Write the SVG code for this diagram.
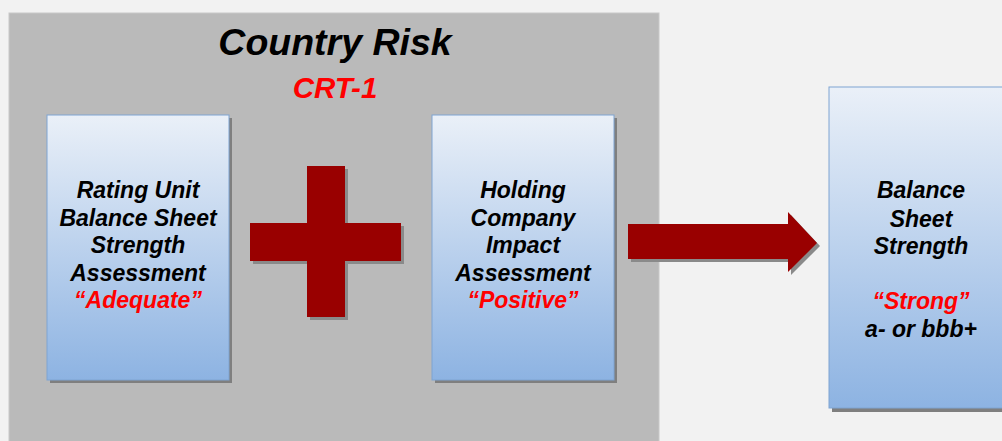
<svg xmlns="http://www.w3.org/2000/svg" width="1002" height="441" viewBox="0 0 1002 441">
<defs>
<linearGradient id="boxGrad" x1="0" y1="0" x2="0" y2="1">
<stop offset="0" stop-color="#eaf0f8"/>
<stop offset="1" stop-color="#8db3e2"/>
</linearGradient>
<style>
.box{fill:url(#boxGrad);stroke:#7ea4d2;stroke-width:1}
.shadow{fill:#7f7f7f}
.t{font-family:"Liberation Sans",Arial,sans-serif;font-weight:bold;font-style:italic;text-anchor:middle}
.lbl{font-size:23px;fill:#000}
.red{fill:#ff0000}
.sym{fill:#990000}
.symsh{fill:#8a8a8a}
</style>
</defs>
<rect x="0" y="0" width="1002" height="441" fill="#f2f2f2"/>
<g id="panel">
<rect x="9" y="13" width="650" height="430" fill="#bababa" stroke="#c8c8c8" stroke-width="1"/>
<text class="t" x="335" y="55" font-size="37.5" fill="#000">Country Risk</text>
<text class="t red" x="335" y="98" font-size="29.5">CRT-1</text>
</g>
<g id="node-rating">
<rect class="shadow" x="50" y="118" width="182" height="265"/>
<rect class="box" x="47" y="115" width="182" height="265"/>
<text class="t lbl" x="138" y="198">Rating Unit</text>
<text class="t lbl" x="138" y="226">Balance Sheet</text>
<text class="t lbl" x="138" y="253">Strength</text>
<text class="t lbl" x="138" y="281">Assessment</text>
<text class="t lbl red" x="138" y="308">“Adequate”</text>
</g>
<g id="node-holding">
<rect class="shadow" x="435" y="118" width="182" height="265"/>
<rect class="box" x="432" y="115" width="182" height="265"/>
<text class="t lbl" x="523" y="198">Holding</text>
<text class="t lbl" x="523" y="226">Company</text>
<text class="t lbl" x="523" y="253">Impact</text>
<text class="t lbl" x="523" y="281">Assessment</text>
<text class="t lbl red" x="523" y="308">“Positive”</text>
</g>
<g id="node-result">
<rect class="shadow" x="832" y="90" width="175" height="322"/>
<rect class="box" x="829" y="87" width="180" height="321"/>
<text class="t lbl" x="921" y="198">Balance</text>
<text class="t lbl" x="921" y="227">Sheet</text>
<text class="t lbl" x="921" y="254">Strength</text>
<text class="t lbl red" x="921" y="309">“Strong”</text>
<text class="t lbl" x="921" y="337">a- or bbb+</text>
</g>
<g id="connectors">
<path class="symsh" d="M310 169 H348 V226 H404 V264 H348 V320 H310 V264 H253 V226 H310 Z"/>
<path class="sym" d="M307 166 H345 V223 H401 V261 H345 V317 H307 V261 H250 V223 H307 Z"/>
<path class="symsh" d="M631 227 H791 V215 L820 246 L791 275 V262 H631 Z"/>
<path class="sym" d="M628 224 H788 V212 L817 243 L788 272 V259 H628 Z"/>
</g>
</svg>
